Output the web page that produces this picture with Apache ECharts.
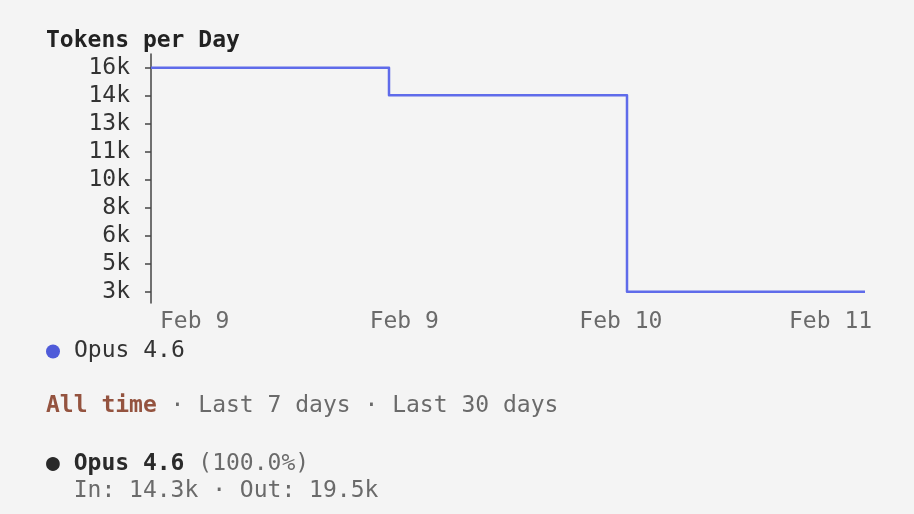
<!DOCTYPE html>
<html>
<head>
<meta charset="utf-8">
<script src="https://cdn.jsdelivr.net/npm/echarts@6/dist/echarts.min.js"></script>
<style>
html,body{margin:0;padding:0;background:#f4f4f4;}
#chart{width:914px;height:514px;}
</style>
</head>
<body>
<div id="chart"></div>
<script>
// ---- data ----
var days = ['Feb 9', 'Feb 10', 'Feb 11'];
var tokensPerDay = [16000, 14400, 3000];
var seriesName = 'Opus 4.6';
var yTickValues = [3000, 4625, 6250, 7875, 9500, 11125, 12750, 14375, 16000];
var yTickLabels = ['3k', '5k', '6k', '8k', '10k', '11k', '13k', '14k', '16k'];
var xTickLabels = ['Feb 9', 'Feb 9', 'Feb 10', 'Feb 11'];
var rangeOptions = ['All time', 'Last 7 days', 'Last 30 days'];
var modelNames = ['Opus 4.6'];
var modelShares = ['100.0%'];
var modelIn = ['14.3k'];
var modelOut = ['19.5k'];

// ---- chart ----
var FONT = '"DejaVu Sans Mono", monospace';
var FS = 23;
var chart = echarts.init(document.getElementById('chart'), null, {renderer: 'canvas'});

var lineData = days.map(function (d, i) { return [i, tokensPerDay[i]]; });
lineData.push([days.length, tokensPerDay[tokensPerDay.length - 1]]);

var option = {
  backgroundColor: '#f4f4f4',
  animation: false,
  textStyle: {fontFamily: FONT},
  title: [
    {
      text: 'Tokens per Day', left: 46, top: 30, padding: 0,
      textStyle: {fontFamily: FONT, fontSize: FS, fontWeight: 'bold', color: '#222', lineHeight: 23}
    },
    {
      text: '{a|' + rangeOptions[0] + '}{b| · ' + rangeOptions.slice(1).join(' · ') + '}',
      left: 46, top: 394, padding: 0,
      textStyle: {
        fontFamily: FONT, fontSize: FS, lineHeight: 24, fontWeight: 'normal',
        rich: {
          a: {fontFamily: FONT, fontSize: FS, fontWeight: 'bold', color: '#94533f'},
          b: {fontFamily: FONT, fontSize: FS, fontWeight: 'normal', color: '#6a6a6a'}
        }
      }
    },
    {
      text: modelNames.map(function (m, i) {
        return '{d|●} {m|' + m + '} {p|(' + modelShares[i] + ')}\n{p|  In: ' + modelIn[i] + ' · Out: ' + modelOut[i] + '}';
      }).join('\n'),
      left: 46, top: 451, padding: 0,
      textStyle: {
        fontFamily: FONT, fontSize: FS, lineHeight: 27, fontWeight: 'normal',
        rich: {
          d: {fontFamily: FONT, fontSize: FS, fontWeight: 'normal', color: '#2a2a2a', lineHeight: 27},
          m: {fontFamily: FONT, fontSize: FS, fontWeight: 'bold', color: '#2a2a2a', lineHeight: 27},
          p: {fontFamily: FONT, fontSize: FS, fontWeight: 'normal', color: '#6a6a6a', lineHeight: 27}
        }
      }
    }
  ],
  legend: {
    data: [seriesName],
    left: 46, top: 340, padding: 0,
    icon: 'circle', itemWidth: 14, itemHeight: 14,
    itemStyle: {color: '#4f5bd9'},
    textStyle: {fontFamily: FONT, fontSize: FS, color: '#333', padding: [0, 0, 0, 9]}
  },
  grid: [
    {left: 151, right: 49, top: 54, bottom: 211, containLabel: false},
    {left: 160, right: 125, top: 290, bottom: 211, containLabel: false}
  ],
  xAxis: [
    {gridIndex: 0, type: 'value', min: 0, max: days.length, show: false},
    {
      gridIndex: 1, type: 'category', data: xTickLabels, boundaryGap: false,
      axisLine: {show: false}, axisTick: {show: false}, splitLine: {show: false},
      axisLabel: {interval: 0, align: 'left', margin: 8, fontFamily: FONT, fontSize: FS, color: '#6a6a6a'}
    }
  ],
  yAxis: [
    {
      gridIndex: 0, type: 'value', min: 2350, max: 16800,
      splitLine: {show: false},
      axisLine: {show: true, lineStyle: {color: '#444', width: 1.5}},
      axisTick: {show: true, customValues: yTickValues, length: 6, lineStyle: {color: '#444', width: 1.5}},
      axisLabel: {
        customValues: yTickValues, margin: 21, padding: [5, 0, 0, 0],
        fontFamily: FONT, fontSize: FS, color: '#333',
        formatter: function (v) {
          var idx = yTickValues.indexOf(v);
          return idx >= 0 ? yTickLabels[idx] : '';
        }
      }
    },
    {gridIndex: 1, type: 'value', show: false}
  ],
  series: [
    {
      name: seriesName, type: 'line', xAxisIndex: 0, yAxisIndex: 0,
      data: lineData, step: 'end', showSymbol: false, symbol: 'none',
      lineStyle: {color: '#5f6bea', width: 2.5, join: 'round'},
      itemStyle: {color: '#4f5bd9'}
    }
  ]
};
chart.setOption(option);
</script>
</body>
</html>
